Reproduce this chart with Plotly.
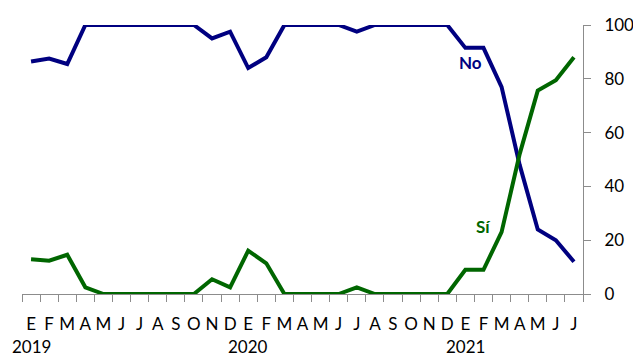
import plotly.graph_objects as go

months = ["E", "F", "M", "A", "M", "J", "J", "A", "S", "O", "N", "D",
          "E", "F", "M", "A", "M", "J", "J", "A", "S", "O", "N", "D",
          "E", "F", "M", "A", "M", "J", "J"]
years = ["2019"] * 12 + ["2020"] * 12 + ["2021"] * 7
categories = [f"{m}-{y}-{i}" for i, (m, y) in enumerate(zip(months, years))]

no_vals = [86.4, 87.5, 85.5, 100, 100, 100, 100, 100, 100, 100, 95, 97.5,
           84, 88, 100, 100, 100, 100, 97.5, 100, 100, 100, 100, 100,
           91.5, 91.5, 77, 48, 24, 20, 12]
si_vals = [12.9, 12.4, 14.6, 2.5, 0, 0, 0, 0, 0, 0, 5.5, 2.5,
           16.1, 11.4, 0, 0, 0, 0, 2.5, 0, 0, 0, 0, 0,
           9, 9, 23, 52, 75.6, 79.5, 88]
y_ticks = [0, 20, 40, 60, 80, 100]

NAVY = "#000080"
GREEN = "#006600"
AXIS = "#8c8c8c"
FONT = "Lato"

fig = go.Figure()
fig.add_trace(go.Scatter(x=categories, y=no_vals, mode="lines",
                         line=dict(color=NAVY, width=4), name="No"))
fig.add_trace(go.Scatter(x=categories, y=si_vals, mode="lines",
                         line=dict(color=GREEN, width=4), name="Sí"))

annotations = []
for i, (m, y) in enumerate(zip(months, years)):
    if i == 0 or years[i - 1] != y:
        annotations.append(dict(x=i, y=-0.197, xref="x", yref="paper",
                                text=y, showarrow=False, yanchor="middle",
                                xanchor="center",
                                font=dict(family=FONT, size=17, color="#000")))
annotations.append(dict(x=24.3, y=86, xref="x", yref="y", text="<b>No</b>",
                        showarrow=False, font=dict(family=FONT, size=17, color=NAVY)))
annotations.append(dict(x=25.0, y=25, xref="x", yref="y", text="<b>Sí</b>",
                        showarrow=False, font=dict(family=FONT, size=17, color=GREEN)))

# page body has an 8px default margin; size the figure to fit the window
fig.update_layout(
    width=633, height=346,
    margin=dict(l=14, r=58, t=17, b=60),
    paper_bgcolor="white", plot_bgcolor="white",
    showlegend=False,
    font=dict(family=FONT, size=17, color="#000"),
    annotations=annotations,
    xaxis=dict(
        type="category",
        tickmode="array", tickvals=categories, ticktext=months,
        tickson="boundaries", tickangle=0, automargin=False,
        ticks="outside", ticklen=7, tickcolor=AXIS, tickwidth=1,
        showline=True, linecolor=AXIS, linewidth=1,
        showgrid=False, zeroline=False,
        range=[-0.5, 30.5],
        tickfont=dict(family=FONT, size=17, color="#000"),
        ticklabelstandoff=15,
    ),
    yaxis=dict(
        side="right", range=[0, 100], automargin=False,
        tickmode="array", tickvals=y_ticks,
        ticks="outside", ticklen=7, tickcolor=AXIS, tickwidth=1,
        showline=True, linecolor=AXIS, linewidth=1,
        showgrid=False, zeroline=False,
        tickfont=dict(family=FONT, size=17, color="#000"),
        ticklabelstandoff=10,
    ),
)

fig.write_html("out.html")
